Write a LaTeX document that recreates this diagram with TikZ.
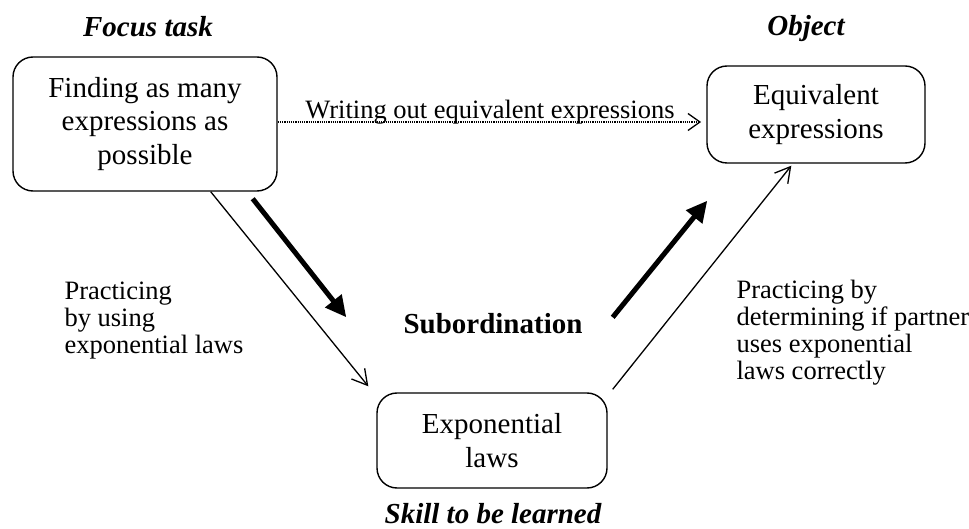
\documentclass[tikz,border=0pt]{standalone}
\usepackage{fontspec}
\setmainfont{Liberation Serif}
\usetikzlibrary{arrows.meta}
\tikzset{
  box/.style={draw, line width=1.4pt, rounded corners=20pt, align=center,
    inner sep=0pt, font=\fontsize{29}{33.5}\selectfont},
  heading/.style={anchor=base, font=\fontsize{29}{33}\selectfont\bfseries\itshape},
  note/.style={anchor=base west, align=left, font=\fontsize{26.5}{27}\selectfont},
  thin/.style={line width=1.3pt, -{Straight Barb[length=15pt,width=17pt,line width=1.3pt]}},
  thick/.style={line width=5pt, -{Triangle[length=21pt,width=20pt]}},
  dots/.style={line width=1.2pt, densely dotted, -{Straight Barb[length=12pt,width=17pt,line width=1.3pt,sep]}}
}
\begin{document}
\begin{tikzpicture}[x=1pt, y=-1pt]
  \useasboundingbox (0,0) rectangle (969,529);

  % the three activity boxes
  \node[box, minimum width=264pt, minimum height=134pt] (b1) at (145,124)
    {Finding as many\\expressions as\\possible};
  \node[box, minimum width=218pt, minimum height=97pt] (b2) at (816,114.5)
    {Equivalent\\expressions};
  \node[box, minimum width=230pt, minimum height=95pt] (b3) at (492,440.5)
    {Exponential\\laws};

  % headings
  \node[heading] (h1) at (148,37) {Focus task};
  \node[heading] (h2) at (806,36) {Object};
  \node[heading] (h3) at (493,523) {Skill to be learned};
  \node[anchor=base, font=\fontsize{29}{33}\selectfont\bfseries] (sub) at (493,333) {Subordination};

  % side notes (anchored at the baseline of their last line)
  \node[note] (n1) at (61,353) {Practicing\\by using\\exponential laws};
  \node[note] (n2) at (733,379) {Practicing by\\determining if partner\\uses exponential\\laws correctly};

  % connectors
  \draw[dots] ([yshift=2pt]b1.east) -- ([xshift=-4pt,yshift=-7.5pt]b2.west)
    node[midway, anchor=base, yshift=3pt, font=\fontsize{26.5}{27}\selectfont] (lab)
    {Writing out equivalent expressions};
  \draw[thin] ([xshift=-67pt]b1.south east) -- ([xshift=-8pt,yshift=6pt]b3.north west);
  \draw[thin] ([xshift=5pt,yshift=3pt]b3.north east) -- ([xshift=85pt,yshift=-2pt]b2.south west);
  \draw[thick] ([xshift=-25pt,yshift=-7pt]b1.south east) -- ([xshift=-30pt,yshift=75pt]b3.north west);
  \draw[thick] ([xshift=5pt,yshift=75pt]b3.north east) -- ([xshift=1pt,yshift=-37pt]b2.south west);
\end{tikzpicture}
\end{document}
